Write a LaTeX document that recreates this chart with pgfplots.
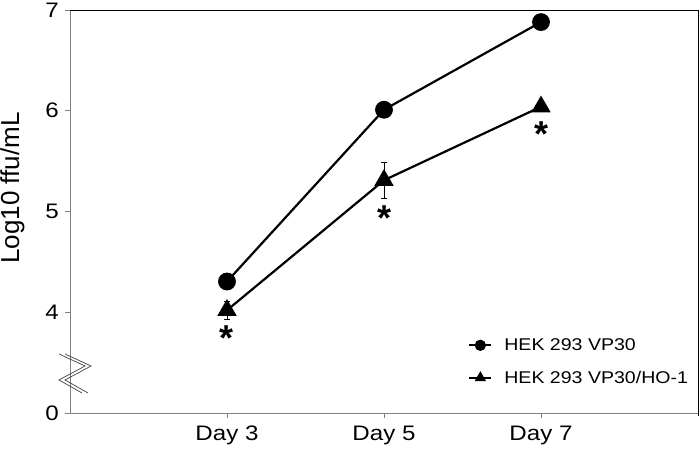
\documentclass[border=0pt]{standalone}
\usepackage{fontspec}
\setmainfont[FakeStretch=1.15]{Liberation Sans}
\newfontfamily\plainsans{Liberation Sans}
\usepackage{pgfplots}
\pgfplotsset{compat=1.18}

\begin{document}
\begin{tikzpicture}
\begin{axis}[
  width=628bp, height=403bp, scale only axis,
  xmin=-1, xmax=3, ymin=3, ymax=7,
  xtick={0,1,2}, xticklabels={Day 3, Day 5, Day 7},
  ytick={3,4,5,6,7}, yticklabels={0,4,5,6,7}, % 0 sits below the axis break
  axis line style={draw=none},
  tick align=outside, major tick length=5bp,
  tick style={gray, line width=0.8bp},
  xtick pos=bottom, ytick pos=left,
  ticklabel style={font=\fontsize{21bp}{25bp}\selectfont, inner sep=0pt},
  yticklabel style={xshift=-6bp},
  xticklabel style={yshift=-8bp},
  ylabel={Log10 ffu/mL},
  every axis y label/.style={at={([xshift=-57.5bp]rel axis cs:0,0.558)},
    rotate=90, anchor=center, font=\plainsans\fontsize{26bp}{30bp}\selectfont},
  legend style={draw=none, fill=none, inner sep=0pt, row sep=15bp, column sep=10bp,
    at={(rel axis cs:0.634,0.19)}, anchor=north west,
    font=\fontsize{17bp}{20bp}\selectfont},
  legend cell align=left,
  legend image code/.code={
    \draw[#1, line width=2bp] (0bp,0bp) -- (22bp,0bp);
    \draw[#1, mark size=4.5bp] plot coordinates {(11bp,0bp)};
  },
  clip=false,
]

\addplot[black, line width=2.2bp, mark=*, mark size=7.8bp] % VP30
  coordinates {(0,4.305) (1,6.01) (2,6.88)};

\addplot[black, line width=2.2bp, mark=triangle*, mark size=9bp,
  error bars/.cd, y dir=both, y explicit,
  error bar style={line width=0.8bp},
  error mark options={rotate=90, mark size=3bp, line width=0.8bp}] % VP30/HO-1
  coordinates {(0,4.02) +- (0,0.09) (1,5.31) +- (0,0.18) (2,6.04) +- (0,0)};

\legend{HEK 293 VP30, HEK 293 VP30/HO-1}

% significance marks
\node[anchor=base, yshift=-21bp] at (axis cs:0,3.83) {\plainsans\bfseries\fontsize{36bp}{36bp}\selectfont *};
\node[anchor=base, yshift=-21bp] at (axis cs:1,5.02) {\plainsans\bfseries\fontsize{36bp}{36bp}\selectfont *};
\node[anchor=base, yshift=-21bp] at (axis cs:2,5.85) {\plainsans\bfseries\fontsize{36bp}{36bp}\selectfont *};
\end{axis}

\begin{scope}[shift={(current axis.south west)}, x=1bp, y=1bp]
  % frame: grey left/bottom, black top/right
  \draw[gray, line width=0.9bp] (0,403) -- (0,0) -- (628,0);
  \draw[black, line width=0.9bp] (0,403) -- (628,403) -- (628,-3);
  % axis break
  \draw[black!75, line width=0.7bp] (-11,59) -- (15,47) -- (-11,33) -- (12,20);
  \draw[black!75, line width=0.7bp] (-5,59) -- (21,47) -- (-5,33) -- (18,20);
  \pgfresetboundingbox
  \path[use as bounding box] (-70,-44) rectangle (630,413);
\end{scope}
\end{tikzpicture}
\end{document}
